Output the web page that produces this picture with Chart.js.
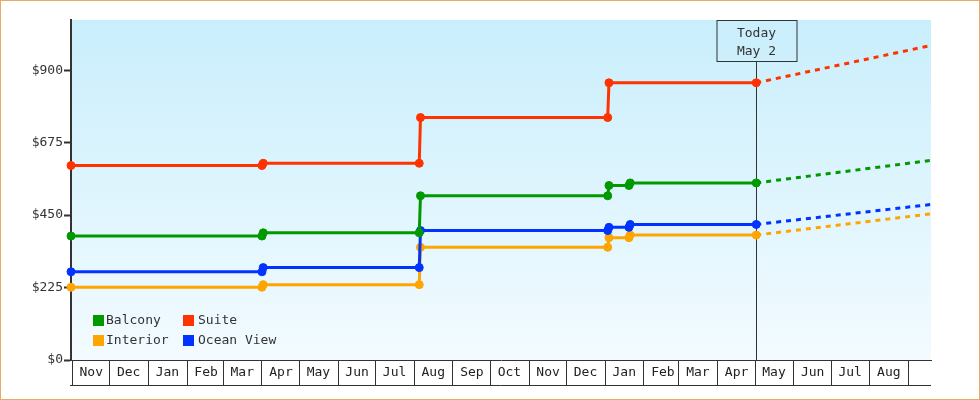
<!DOCTYPE html>
<html>
<head>
<meta charset="utf-8">
<script src="https://cdn.jsdelivr.net/npm/chart.js@4.4.1/dist/chart.umd.min.js"></script>
<style>
  html, body { margin: 0; padding: 0; background: #fff; }
  #wrap { width: 980px; height: 400px; border: 1px solid #e8aa66; box-sizing: border-box; background: #fff; }
  canvas { display: block; }
</style>
</head>
<body>
<div id="wrap"><canvas id="priceChart" width="978" height="398"></canvas></div>
<script>
// axis range and labels
var startDate = '2023-10-31';
var endDate = '2025-09-19';
var todayDate = '2025-05-02';
var todayText = ['Today', 'May 2'];

var monthStarts = ['2023-11-01', '2023-12-01', '2024-01-01', '2024-02-01', '2024-03-01', '2024-04-01',
    '2024-05-01', '2024-06-01', '2024-07-01', '2024-08-01', '2024-09-01', '2024-10-01', '2024-11-01',
    '2024-12-01', '2025-01-01', '2025-02-01', '2025-03-01', '2025-04-01', '2025-05-01', '2025-06-01',
    '2025-07-01', '2025-08-01', '2025-09-01'];
var monthLabels = ['Nov', 'Dec', 'Jan', 'Feb', 'Mar', 'Apr', 'May', 'Jun', 'Jul', 'Aug', 'Sep', 'Oct',
    'Nov', 'Dec', 'Jan', 'Feb', 'Mar', 'Apr', 'May', 'Jun', 'Jul', 'Aug', ''];

var yTicks = [0, 225, 450, 675, 900];
var yMax = 1056;

// observed prices
var priceDates = ['2023-10-31', '2024-04-01', '2024-04-02', '2024-08-05', '2024-08-06',
    '2025-01-03', '2025-01-04', '2025-01-20', '2025-01-21', '2025-05-02'];
var suite     = [604, 604, 611, 611, 753, 753, 861, null, null, 861];
var balcony   = [385, 385, 395, 395, 510, 510, 542, 542, 550, 550];
var oceanView = [274, 274, 287, 287, 402, 402, 412, 412, 421, 421];
var interior  = [226, 226, 234, 234, 350, 350, 380, 380, 388, 388];

// forecast
var forecastDates = ['2025-05-02', '2025-09-19'];
var suiteForecast     = [861, 977];
var balconyForecast   = [550, 620];
var oceanViewForecast = [421, 483];
var interiorForecast  = [388, 454];

var seriesNames  = ['Suite', 'Balcony', 'Ocean View', 'Interior'];
var seriesColors = ['#ff3300', '#009900', '#0033ff', '#ffa500'];
var legendOrder  = ['Balcony', 'Suite', 'Interior', 'Ocean View'];

function dayOf(s) {
    var p = s.split('-');
    var base = startDate.split('-');
    return (Date.UTC(+p[0], +p[1] - 1, +p[2]) - Date.UTC(+base[0], +base[1] - 1, +base[2])) / 86400000;
}

function points(dates, values) {
    return dates.map(function (d, i) { return { x: dayOf(d), y: values[i] }; });
}

var FONT = '"DejaVu Sans Mono", "Liberation Mono", monospace';
Chart.defaults.font.family = FONT;
Chart.defaults.font.size = 13;
Chart.defaults.color = '#333';

var observed = [suite, balcony, oceanView, interior];
var forecast = [suiteForecast, balconyForecast, oceanViewForecast, interiorForecast];

var datasets = [];
seriesNames.forEach(function (name, i) {
    datasets.push({
        label: name,
        data: points(priceDates, observed[i]),
        borderColor: seriesColors[i],
        backgroundColor: seriesColors[i],
        borderWidth: 3,
        pointRadius: 4,
        pointBorderWidth: 1,
        pointHoverRadius: 4,
        spanGaps: true,
        clip: false,
        tension: 0
    });
});
seriesNames.forEach(function (name, i) {
    datasets.push({
        label: name + ' forecast',
        data: points(forecastDates, forecast[i]),
        borderColor: seriesColors[i],
        borderWidth: 3,
        borderDash: [5, 5],
        pointRadius: 0,
        tension: 0
    });
});

var backgroundPlugin = {
    id: 'bgGradient',
    beforeDraw: function (chart) {
        var a = chart.chartArea, ctx = chart.ctx;
        var g = ctx.createLinearGradient(0, a.top, 0, a.bottom);
        g.addColorStop(0, '#c9eefc');
        g.addColorStop(1, '#f3fbff');
        ctx.save();
        ctx.fillStyle = g;
        ctx.fillRect(a.left, a.top, a.right - a.left, a.bottom - a.top);
        ctx.restore();
    },
    afterDraw: function (chart) {
        // bottom edge of the month cells
        var a = chart.chartArea, ctx = chart.ctx;
        ctx.save();
        ctx.strokeStyle = '#333';
        ctx.lineWidth = 1;
        ctx.beginPath();
        ctx.moveTo(a.left - 1, a.bottom + 25.5);
        ctx.lineTo(a.right, a.bottom + 25.5);
        ctx.stroke();
        ctx.restore();
    }
};

var todayPlugin = {
    id: 'todayMarker',
    beforeDatasetsDraw: function (chart) {
        var a = chart.chartArea, ctx = chart.ctx;
        var x = Math.round(chart.scales.x.getPixelForValue(dayOf(todayDate))) + 0.5;
        var w = 80, h = 41;
        ctx.save();
        ctx.strokeStyle = '#333';
        ctx.lineWidth = 1;
        ctx.strokeRect(Math.round(x - w / 2), a.top + 0.5, w, h);
        ctx.beginPath();
        ctx.moveTo(x, a.top + h + 0.5);
        ctx.lineTo(x, a.bottom);
        ctx.stroke();
        ctx.fillStyle = '#333';
        ctx.font = '13px ' + FONT;
        ctx.textAlign = 'center';
        ctx.textBaseline = 'middle';
        ctx.fillText(todayText[0], x, a.top + 14);
        ctx.fillText(todayText[1], x, a.top + 32);
        ctx.restore();
    }
};

var legendPlugin = {
    id: 'insideLegend',
    afterDatasetsDraw: function (chart) {
        var a = chart.chartArea, ctx = chart.ctx;
        ctx.save();
        ctx.font = '13px ' + FONT;
        ctx.textAlign = 'left';
        ctx.textBaseline = 'middle';
        legendOrder.forEach(function (name, k) {
            var col = k % 2, row = Math.floor(k / 2);
            var sx = a.left + 22 + col * 90;
            var sy = a.bottom - 45 + row * 20;
            ctx.fillStyle = seriesColors[seriesNames.indexOf(name)];
            ctx.fillRect(sx, sy, 11, 11);
            ctx.fillStyle = '#333';
            ctx.fillText(name, sx + 13 + col * 2, sy + 6);
        });
        ctx.restore();
    }
};

new Chart(document.getElementById('priceChart').getContext('2d'), {
    type: 'line',
    data: { datasets: datasets },
    options: {
        responsive: false,
        animation: false,
        devicePixelRatio: 1,
        layout: { padding: { top: 19, right: 48, left: 0, bottom: 0 } },
        plugins: {
            legend: { display: false },
            tooltip: { enabled: false }
        },
        scales: {
            x: {
                type: 'linear',
                min: dayOf(startDate),
                max: dayOf(endDate),
                afterBuildTicks: function (scale) {
                    scale.ticks = monthStarts.map(function (d) { return { value: dayOf(d) }; });
                },
                afterFit: function (scale) { scale.height = 39; },
                grid: { drawOnChartArea: false, drawTicks: true, tickLength: 25, color: '#333', lineWidth: 1 },
                border: { display: true, color: '#333', width: 1 },
                ticks: {
                    autoSkip: false,
                    maxRotation: 0,
                    labelOffset: 19,
                    padding: -20,
                    color: '#222',
                    callback: function (v, i) { return monthLabels[i]; }
                }
            },
            y: {
                min: 0,
                max: yMax,
                afterBuildTicks: function (scale) {
                    scale.ticks = yTicks.map(function (v) { return { value: v }; });
                },
                afterFit: function (scale) { scale.width = 70; },
                grid: { drawOnChartArea: false, drawTicks: true, tickLength: 7, tickWidth: 2, tickColor: '#333' },
                border: { display: true, color: '#333', width: 2 },
                ticks: {
                    padding: 1,
                    color: '#333',
                    callback: function (v) { return '$' + v; }
                }
            }
        }
    },
    plugins: [backgroundPlugin, todayPlugin, legendPlugin]
});
</script>
</body>
</html>
